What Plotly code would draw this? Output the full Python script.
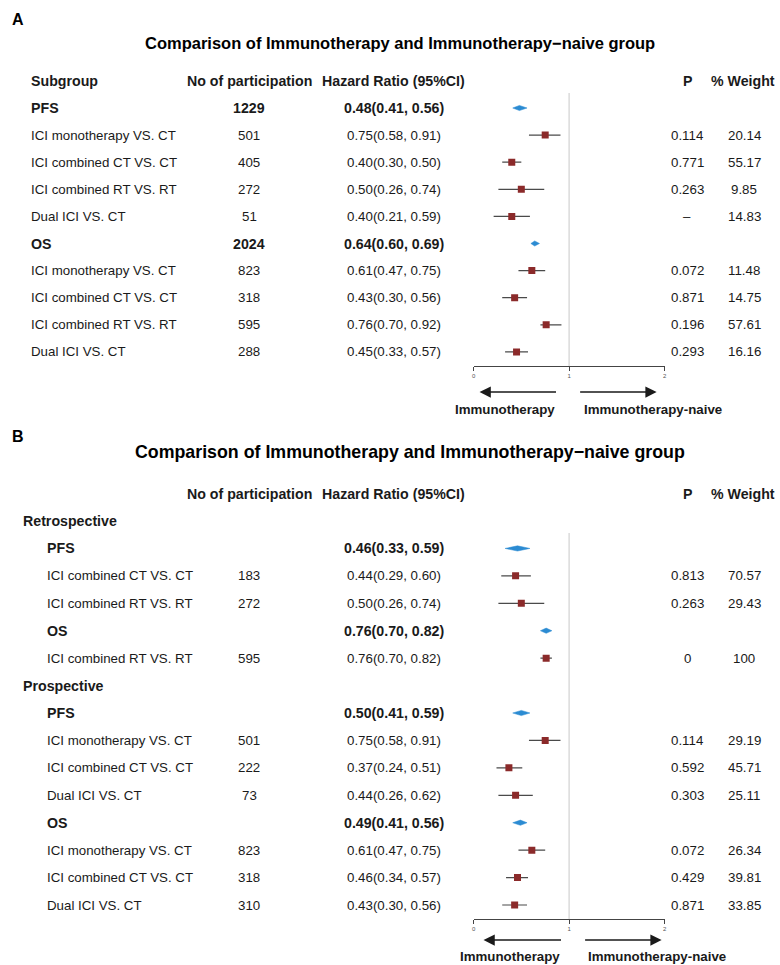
import plotly.graph_objects as go

W, H = 780, 965
FONT = "Liberation Sans, Arial, Helvetica, sans-serif"
TXT = "#1a1a1a"
SQ = "#8B2A2A"
CI = "#4a4a4a"
DIA = "#2B8BD2"

# ---------------- Panel A data ----------------
a_labels = ["PFS", "ICI monotherapy VS. CT", "ICI combined CT VS. CT", "ICI combined RT VS. RT",
            "Dual ICI VS. CT", "OS", "ICI monotherapy VS. CT", "ICI combined CT VS. CT",
            "ICI combined RT VS. RT", "Dual ICI VS. CT"]
a_kind = ["summary", "item", "item", "item", "item", "summary", "item", "item", "item", "item"]
a_n = ["1229", "501", "405", "272", "51", "2024", "823", "318", "595", "288"]
a_est = [0.48, 0.75, 0.40, 0.50, 0.40, 0.64, 0.61, 0.43, 0.76, 0.45]
a_lo = [0.41, 0.58, 0.30, 0.26, 0.21, 0.60, 0.47, 0.30, 0.70, 0.33]
a_hi = [0.56, 0.91, 0.50, 0.74, 0.59, 0.69, 0.75, 0.56, 0.92, 0.57]
a_p = ["", "0.114", "0.771", "0.263", "\u2013", "", "0.072", "0.871", "0.196", "0.293"]
a_w = ["", "20.14", "55.17", "9.85", "14.83", "", "11.48", "14.75", "57.61", "16.16"]

# ---------------- Panel B data ----------------
b_labels = ["Retrospective", "PFS", "ICI combined CT VS. CT", "ICI combined RT VS. RT", "OS",
            "ICI combined RT VS. RT", "Prospective", "PFS", "ICI monotherapy VS. CT",
            "ICI combined CT VS. CT", "Dual ICI VS. CT", "OS", "ICI monotherapy VS. CT",
            "ICI combined CT VS. CT", "Dual ICI VS. CT"]
b_kind = ["group", "summary", "item", "item", "summary", "item", "group", "summary", "item",
          "item", "item", "summary", "item", "item", "item"]
b_n = ["", "", "183", "272", "", "595", "", "", "501", "222", "73", "", "823", "318", "310"]
b_est = [None, 0.46, 0.44, 0.50, 0.76, 0.76, None, 0.50, 0.75, 0.37, 0.44, 0.49, 0.61, 0.46, 0.43]
b_lo = [None, 0.33, 0.29, 0.26, 0.70, 0.70, None, 0.41, 0.58, 0.24, 0.26, 0.41, 0.47, 0.34, 0.30]
b_hi = [None, 0.59, 0.60, 0.74, 0.82, 0.82, None, 0.59, 0.91, 0.51, 0.62, 0.56, 0.75, 0.57, 0.56]
b_p = ["", "", "0.813", "0.263", "", "0", "", "", "0.114", "0.592", "0.303", "", "0.072", "0.429", "0.871"]
b_w = ["", "", "70.57", "29.43", "", "100", "", "", "29.19", "45.71", "25.11", "", "26.34", "39.81", "33.85"]

x_ticks = [0, 1, 2]
header_cols = ["No of participation", "Hazard Ratio (95%CI)", "P", "% Weight"]


def py(p):
    return 1 - p / H


def pxp(p):
    return p / W


fig = go.Figure()

# layout geometry (pixels)
FX0, FX1 = 474, 666
A_ROW0, A_STEP, A_TOP, A_BOT, A_LINE_TOP = 108, 27.1, 60, 366, 93
B_ROW0, B_STEP, B_TOP, B_BOT, B_LINE_TOP = 521, 27.43, 475, 919, 533
DH = 0.095  # diamond half-height in row units

COLX = {"n": 248.5, "hr": 394, "p": 689, "w": 746}
LEFT_A, LEFT_G, LEFT_I = 27, 19, 43


def add_forest(xa, ya, kinds, est, lo, hi):
    ci_x, ci_y, sq_x, sq_y = [], [], [], []
    for i, k in enumerate(kinds):
        if est[i] is None:
            continue
        if k == "item":
            ci_x += [lo[i], hi[i], None]
            ci_y += [i, i, None]
            sq_x.append(est[i])
            sq_y.append(i)
        elif k == "summary":
            fig.add_trace(go.Scatter(
                x=[lo[i], est[i], hi[i], est[i], lo[i]],
                y=[i, i - DH, i, i + DH, i],
                mode="lines", fill="toself", fillcolor=DIA,
                line=dict(width=0.5, color=DIA), xaxis=xa, yaxis=ya, hoverinfo="skip"))
    fig.add_trace(go.Scatter(x=ci_x, y=ci_y, mode="lines", line=dict(color=CI, width=1.2),
                             xaxis=xa, yaxis=ya, hoverinfo="skip"))
    fig.add_trace(go.Scatter(x=sq_x, y=sq_y, mode="markers",
                             marker=dict(symbol="square", size=7, color=SQ,
                                         line=dict(width=0)),
                             xaxis=xa, yaxis=ya, hoverinfo="skip"))


add_forest("x", "y", a_kind, a_est, a_lo, a_hi)
add_forest("x2", "y2", b_kind, b_est, b_lo, b_hi)

ann = []


def txt(x, yref, y, s, bold=False, size=13.3, anchor="center"):
    ann.append(dict(x=pxp(x), xref="paper", y=y, yref=yref, text=("<b>%s</b>" % s) if bold else s,
                    showarrow=False, xanchor=anchor, yanchor="middle",
                    font=dict(family=FONT, size=size, color=TXT)))


def hr_text(e, l, h):
    return "%.2f(%.2f, %.2f)" % (e, l, h)


# Panel A table
txt(LEFT_A, "y", -1, "Subgroup", True, 14.2, "left")
for s, key in zip(header_cols, ["n", "hr", "p", "w"]):
    txt(COLX[key] + (0 if key != "w" else -1), "y", -1, s, True, 14.2)
for i, lab in enumerate(a_labels):
    b = a_kind[i] == "summary"
    fs = 14.2 if b else 13.3
    txt(LEFT_A, "y", i, lab, b, fs, "left")
    txt(COLX["n"], "y", i, a_n[i], b, fs)
    txt(COLX["hr"], "y", i, hr_text(a_est[i], a_lo[i], a_hi[i]), b, fs)
    if a_p[i]:
        txt(COLX["p"], "y", i, a_p[i], b, fs)
    if a_w[i]:
        txt(COLX["w"], "y", i, a_w[i], b, fs)

# Panel B table
for s, key in zip(header_cols, ["n", "hr", "p", "w"]):
    txt(COLX[key] + (0 if key != "w" else -1), "y2", -1, s, True, 14.2)
for i, lab in enumerate(b_labels):
    k = b_kind[i]
    b = k != "item"
    fs = 14.2 if b else 13.3
    txt(LEFT_G if k == "group" else LEFT_I, "y2", i, lab, b, fs, "left")
    if b_n[i]:
        txt(COLX["n"], "y2", i, b_n[i], b, fs)
    if b_est[i] is not None:
        txt(COLX["hr"], "y2", i, hr_text(b_est[i], b_lo[i], b_hi[i]), b, fs)
    if b_p[i]:
        txt(COLX["p"], "y2", i, b_p[i], b, fs)
    if b_w[i]:
        txt(COLX["w"], "y2", i, b_w[i], b, fs)

# panel letters and titles
ann.append(dict(x=pxp(8), y=py(20), xref="paper", yref="paper", text="<b>A</b>", showarrow=False,
                xanchor="left", yanchor="middle", font=dict(family=FONT, size=16, color="#000")))
ann.append(dict(x=pxp(8), y=py(437), xref="paper", yref="paper", text="<b>B</b>", showarrow=False,
                xanchor="left", yanchor="middle", font=dict(family=FONT, size=16, color="#000")))
ann.append(dict(x=pxp(400), y=py(43), xref="paper", yref="paper",
                text="<b>Comparison of Immunotherapy and Immunotherapy\u2212naive group</b>",
                showarrow=False, xanchor="center", yanchor="middle",
                font=dict(family=FONT, size=16.5, color="#000")))
ann.append(dict(x=pxp(410), y=py(452), xref="paper", yref="paper",
                text="<b>Comparison of Immunotherapy and Immunotherapy\u2212naive group</b>",
                showarrow=False, xanchor="center", yanchor="middle",
                font=dict(family=FONT, size=17.8, color="#000")))


# direction arrows + labels
def d(px):
    return (px - FX0) / (FX1 - FX0) * 2


for xref, yarr, ylab, lt, ltail, rtail, rt, lc, rc in [
        ("x", 392, 409, 480, 558, 580, 658, 506, 654.5),
        ("x2", 940, 956, 484, 563, 585, 663, 511, 658.5)]:
    ann.append(dict(x=d(lt), y=py(yarr), xref=xref, yref="paper", ax=ltail - lt, ay=0,
                    text="", showarrow=True, arrowhead=2, arrowsize=1.5, arrowwidth=1.5,
                    arrowcolor="#1a1a1a", standoff=0, startstandoff=0))
    ann.append(dict(x=d(rt), y=py(yarr), xref=xref, yref="paper", ax=rtail - rt, ay=0,
                    text="", showarrow=True, arrowhead=2, arrowsize=1.5, arrowwidth=1.5,
                    arrowcolor="#1a1a1a", standoff=0, startstandoff=0))
    ann.append(dict(x=pxp(lc), y=py(ylab), xref="paper", yref="paper", text="<b>Immunotherapy</b>",
                    showarrow=False, xanchor="center", yanchor="middle",
                    font=dict(family=FONT, size=13.3, color=TXT)))
    ann.append(dict(x=pxp(rc), y=py(ylab), xref="paper", yref="paper",
                    text="<b>Immunotherapy-naive</b>",
                    showarrow=False, xanchor="center", yanchor="middle",
                    font=dict(family=FONT, size=13.3, color=TXT)))

xax = dict(domain=[pxp(FX0), pxp(FX1)], range=[0, 2], showline=True, linecolor="#444", linewidth=1,
           ticks="outside", ticklen=4, tickcolor="#444", tickvals=x_ticks,
           tickfont=dict(family=FONT, size=6, color="#555"), showgrid=False, zeroline=False,
           fixedrange=True)

a_range = [(A_BOT - A_ROW0) / A_STEP, (A_TOP - A_ROW0) / A_STEP]
b_range = [(B_BOT - B_ROW0) / B_STEP, (B_TOP - B_ROW0) / B_STEP]

fig.update_layout(
    width=W, height=H, margin=dict(l=0, r=0, t=0, b=0),
    paper_bgcolor="white", plot_bgcolor="white", showlegend=False,
    xaxis=dict(xax, anchor="y"),
    yaxis=dict(domain=[py(A_BOT), py(A_TOP)], range=a_range, visible=False, anchor="x",
               fixedrange=True),
    xaxis2=dict(xax, anchor="y2"),
    yaxis2=dict(domain=[py(B_BOT), py(B_TOP)], range=b_range, visible=False, anchor="x2",
                fixedrange=True),
    annotations=ann,
)

# null-effect reference lines
for xr, yr, top, rng, row0, step in [("x", "y", A_LINE_TOP, a_range, A_ROW0, A_STEP),
                                     ("x2", "y2", B_LINE_TOP, b_range, B_ROW0, B_STEP)]:
    fig.add_shape(type="line", xref=xr, yref=yr, x0=1, x1=1, y0=(top - row0) / step, y1=rng[0],
                  line=dict(color="#c8c8c8", width=1), layer="below")

fig.write_html("out.html",
               config={"displayModeBar": False},
               post_script="document.body.style.margin='0';document.body.style.padding='0';"
                           "document.body.style.overflow='hidden';")
